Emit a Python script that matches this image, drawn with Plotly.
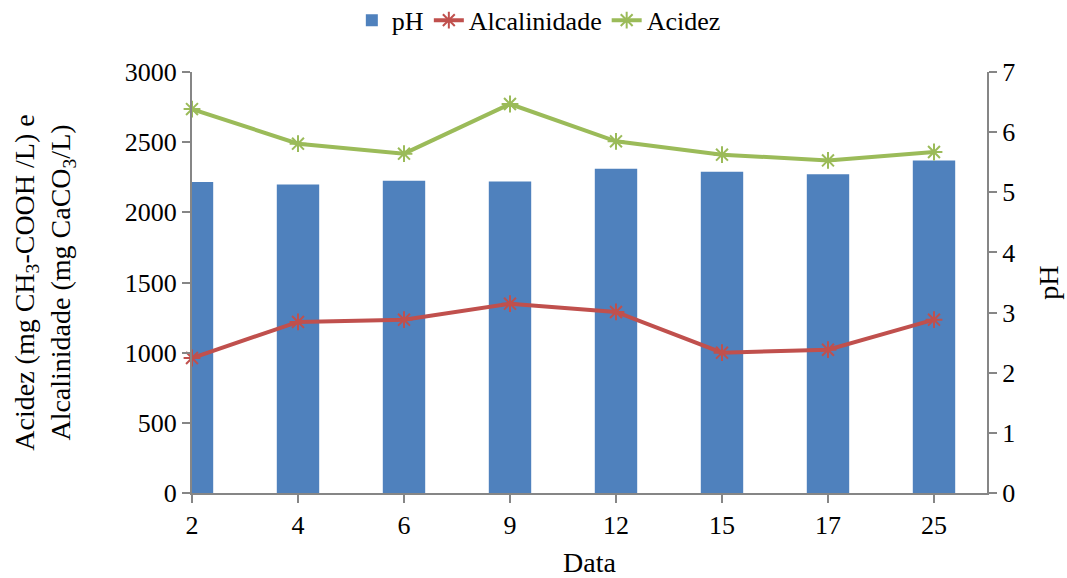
import plotly.graph_objects as go

categories = ["2", "4", "6", "9", "12", "15", "17", "25"]
ph = [5.17, 5.13, 5.19, 5.18, 5.39, 5.34, 5.30, 5.53]
alcalinidade = [962, 1219, 1235, 1349, 1290, 1000, 1021, 1235]
acidez = [2736, 2489, 2418, 2772, 2506, 2411, 2370, 2430]

FONT = "Liberation Serif, Times New Roman, serif"
AXIS_COLOR = "#868686"

fig = go.Figure()
# bars on primary axis (drawn beneath), shown on right side
fig.add_trace(go.Bar(
    x=categories, y=ph, name="pH", yaxis="y",
    marker=dict(color="#4F81BD", line=dict(width=0)), width=0.4,
))
fig.add_trace(go.Scatter(
    x=categories, y=alcalinidade, name="Alcalinidade", mode="lines+markers", yaxis="y2",
    line=dict(color="#C0504D", width=4),
    marker=dict(symbol="asterisk-open", size=14, color="#C0504D", line=dict(width=2, color="#C0504D")),
    cliponaxis=False,
))
fig.add_trace(go.Scatter(
    x=categories, y=acidez, name="Acidez", mode="lines+markers", yaxis="y2",
    line=dict(color="#9BBB59", width=4),
    marker=dict(symbol="asterisk-open", size=14, color="#9BBB59", line=dict(width=2, color="#9BBB59")),
    cliponaxis=False,
))

tick_font = dict(family=FONT, size=26, color="black")
title_font = dict(family=FONT, size=28, color="black")

fig.update_layout(
    width=1067, height=578,
    margin=dict(l=192, r=80, t=72, b=85, autoexpand=False),
    plot_bgcolor="white", paper_bgcolor="white",
    font=dict(family=FONT, size=26, color="black"),
    showlegend=True,
    legend=dict(orientation="h", x=0.505, xref="container", y=0.965, yref="container",
                xanchor="center", yanchor="middle",
                font=tick_font, bgcolor="rgba(0,0,0,0)", traceorder="normal"),
    xaxis=dict(
        type="category", range=[0, 7.5],
        showline=True, linecolor=AXIS_COLOR, linewidth=2,
        ticks="outside", ticklen=8, tickcolor=AXIS_COLOR, tickwidth=2,
        showgrid=False, zeroline=False,
        title=dict(text="Data", standoff=18, font=title_font),
        tickfont=tick_font,
    ),
    yaxis=dict(
        range=[0, 7], tickvals=[0, 1, 2, 3, 4, 5, 6, 7],
        side="right",
        showline=True, linecolor=AXIS_COLOR, linewidth=2,
        ticks="outside", ticklen=8, tickcolor=AXIS_COLOR, tickwidth=2,
        showgrid=False, zeroline=False,
        title=dict(text="pH", standoff=24, font=title_font),
        tickfont=tick_font,
    ),
    yaxis2=dict(
        range=[0, 3000], tickvals=[0, 500, 1000, 1500, 2000, 2500, 3000],
        overlaying="y", side="left",
        showline=True, linecolor=AXIS_COLOR, linewidth=2,
        ticks="outside", ticklen=8, tickcolor=AXIS_COLOR, tickwidth=2,
        showgrid=False, zeroline=False,
        title=dict(text="Acidez (mg CH<sub>3</sub>-COOH /L) e<br>Alcalinidade (mg CaCO<sub>3</sub>/L)",
                   standoff=46, font=title_font),
        tickfont=tick_font,
    ),
)

fig.write_html("out.html")
